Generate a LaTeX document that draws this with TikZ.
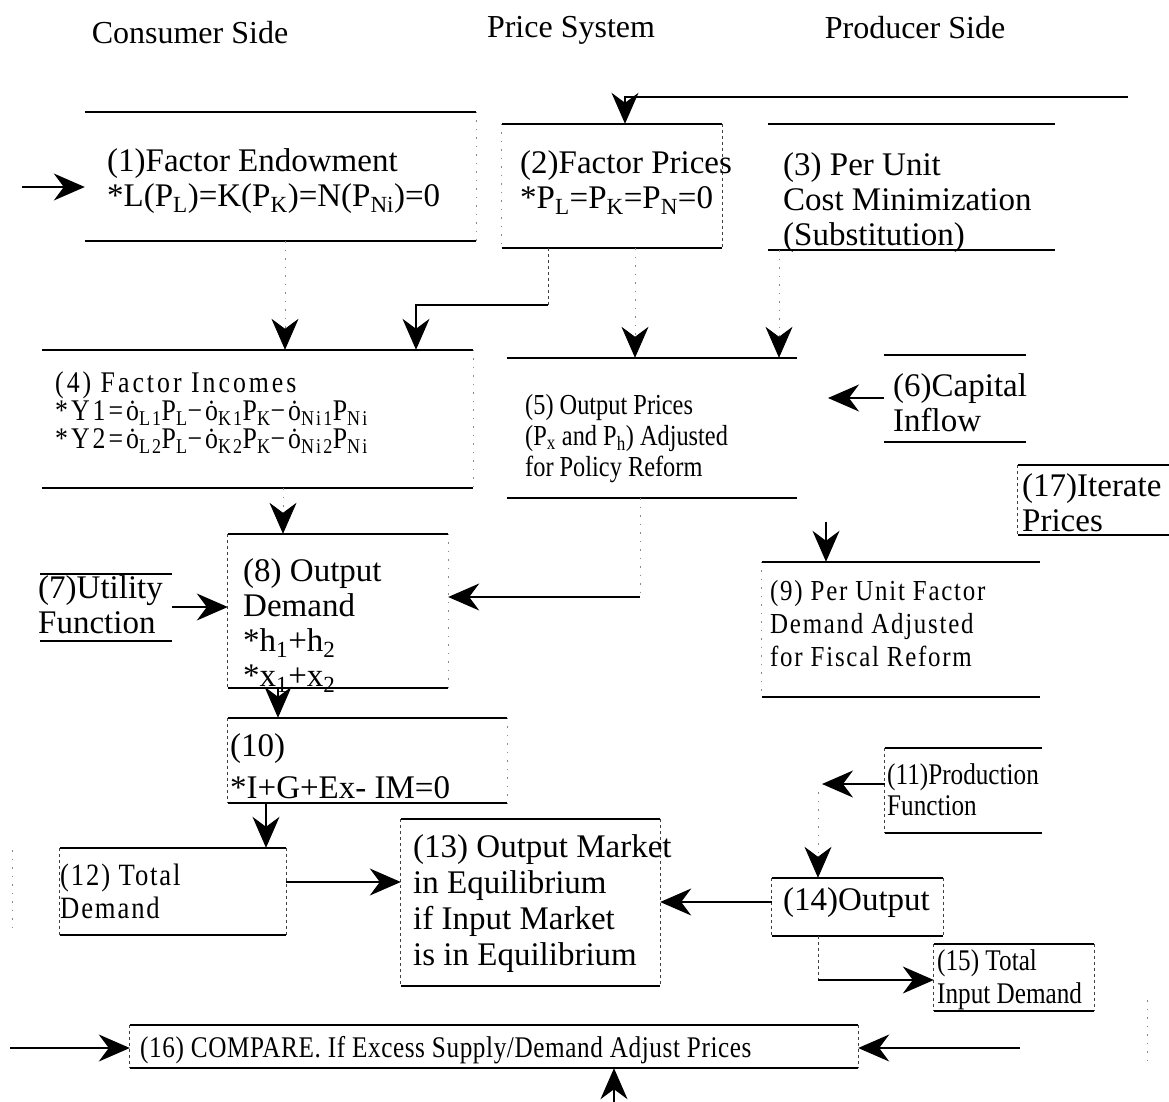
\documentclass[tikz,border=0pt]{standalone}
\usepackage{fontspec}
\setmainfont{Liberation Serif}
\newfontfamily\condf[FakeStretch=0.84]{Liberation Serif}
\newfontfamily\condl[FakeStretch=0.84,LetterSpace=2]{Liberation Serif}
\newfontfamily\spcf[FakeStretch=0.86,LetterSpace=6]{Liberation Serif}
\newfontfamily\spcw[FakeStretch=0.86,LetterSpace=10]{Liberation Serif}
\usetikzlibrary{arrows.meta,fit}
\begin{document}
\begin{tikzpicture}[x=1pt,y=-1pt,
  tb/.style={line width=1.5pt},
  sd/.style={line width=0.8pt, dash pattern=on 3pt off 3pt, black!75},
  fs/.style={line width=0.8pt, dash pattern=on 1.5pt off 7pt, black!45},
  bx/.style={rectangle, draw=none, inner sep=0pt},
  conn/.style={line width=1.3pt, -{Stealth[length=31pt,width=27pt,inset=10pt,black]}},
  dconn/.style={line width=0.8pt, dash pattern=on 1.5pt off 7pt, black!45, -{Stealth[length=31pt,width=27pt,inset=10pt,black]}},
  tx/.style={anchor=north west, inner sep=0pt, align=left, font=\fontsize{33}{35}\selectfont},
  txc/.style={anchor=north west, inner sep=0pt, align=left, font=\condf\fontsize{30}{31}\selectfont},
  txs/.style={anchor=north west, inner sep=0pt, align=left, font=\spcf\fontsize{27}{29}\selectfont},
  ttl/.style={inner sep=0pt, font=\fontsize{32}{34}\selectfont}
]
\useasboundingbox (0,0) rectangle (1169,1102);

% titles
\node[ttl] (ti1) at (190,33) {Consumer Side};
\node[ttl] (ti2) at (571,30) {Price System};
\node[ttl] (ti3) at (915,28) {Producer Side};

% boxes
\node[bx, fit={(85,112) (476,241)}] (b1) {};
\node[bx, fit={(502,124) (722,248)}] (b2) {};
\node[bx, fit={(768,124) (1055,250)}] (b3) {};
\node[bx, fit={(42,350) (473,488)}] (b4) {};
\node[bx, fit={(507,358) (797,498)}] (b5) {};
\node[bx, fit={(884,355) (1026,442)}] (b6) {};
\node[bx, fit={(1018,465) (1169,535)}] (b17) {};
\node[bx, fit={(40,574) (172,641)}] (b7) {};
\node[bx, fit={(228,534) (448,688)}] (b8) {};
\node[bx, fit={(762,562) (1040,697)}] (b9) {};
\node[bx, fit={(228,718) (507,803)}] (b10) {};
\node[bx, fit={(885,748) (1042,833)}] (b11) {};
\node[bx, fit={(60,848) (286,935)}] (b12) {};
\node[bx, fit={(401,819) (660,986)}] (b13) {};
\node[bx, fit={(772,878) (943,936)}] (b14) {};
\node[bx, fit={(934,944) (1094,1011)}] (b15) {};
\node[bx, fit={(130,1025) (858,1068)}] (b16) {};

% top and bottom rules
\foreach \b in {b1,b2,b3,b4,b5,b6,b17,b7,b8,b9,b10,b11,b12,b13,b14,b15,b16}{
  \draw[tb] (\b.north west) -- (\b.north east);
  \draw[tb] (\b.south west) -- (\b.south east);
}
% visible dashed sides
\foreach \b in {b12,b13,b14,b15,b16}{
  \draw[sd] (\b.north west) -- (\b.south west);
  \draw[sd] (\b.north east) -- (\b.south east);
}
\foreach \b in {b8,b10,b11,b17}{
  \draw[sd] (\b.north west) -- (\b.south west);
}
\draw[sd] (b2.north east) -- (b2.south east);
% faint sides
\foreach \b in {b1,b4,b8,b10}{
  \draw[fs] (\b.north east) -- (\b.south east);
}
\draw[fs] (b9.north west) -- (b9.south west);
\draw[fs] (b2.north west) -- (b2.south west);
% faint traces at the margins
\coordinate (mL1) at (12,850);
\coordinate (mL2) at (12,935);
\draw[fs] (mL1) -- (mL2);
\coordinate (mR1) at (1147,1000);
\coordinate (mR2) at (1147,1060);
\draw[fs] (mR1) -- (mR2);

% texts
\node[tx] (t1) at (107,148) {(1)Factor Endowment\\*L(P\textsubscript{L})=K(P\textsubscript{K})=N(P\textsubscript{Ni})=0};
\node[tx] (t2) at (520,150) {(2)Factor Prices\\*P\textsubscript{L}=P\textsubscript{K}=P\textsubscript{N}=0};
\node[tx] (t3) at (783,152) {(3) Per Unit\\Cost Minimization\\(Substitution)};
\node[txs, font=\spcw\fontsize{30}{28}\selectfont] (t4) at (55,371) {(4) Factor Incomes\\*Y1=ȯ\textsubscript{L1}P\textsubscript{L}−ȯ\textsubscript{K1}P\textsubscript{K}−ȯ\textsubscript{Ni1}P\textsubscript{Ni}\\*Y2=ȯ\textsubscript{L2}P\textsubscript{L}−ȯ\textsubscript{K2}P\textsubscript{K}−ȯ\textsubscript{Ni2}P\textsubscript{Ni}};
\node[txc, font=\condf\fontsize{29}{31}\selectfont] (t5) at (525,394) {(5) Output Prices\\(P\textsubscript{x} and P\textsubscript{h}) Adjusted\\for Policy Reform};
\node[tx] (t6) at (893,373) {(6)Capital\\Inflow};
\node[tx] (t17) at (1022,473) {(17)Iterate\\Prices};
\node[tx] (t7) at (38,575) {(7)Utility\\Function};
\node[tx] (t8) at (243,558) {(8) Output\\Demand\\*h\textsubscript{1}+h\textsubscript{2}\\*x\textsubscript{1}+x\textsubscript{2}};
\node[txs, font=\spcf\fontsize{29}{33}\selectfont] (t9) at (770,580) {(9) Per Unit Factor\\Demand Adjusted\\for Fiscal Reform};
\node[tx, font=\fontsize{33}{42}\selectfont] (t10) at (230,733) {(10)\\*I+G+Ex- IM=0};
\node[txc] (t11) at (887,763) {(11)Production\\Function};
\node[txs, font=\spcf\fontsize{31}{33}\selectfont] (t12) at (60,864) {(12) Total\\Demand};
\node[tx, font=\fontsize{33}{36}\selectfont] (t13) at (413,834) {(13) Output Market\\in Equilibrium\\if Input Market\\is in Equilibrium};
\node[tx] (t14) at (783,887) {(14)Output};
\node[txc, font=\condf\fontsize{30}{33}\selectfont] (t15) at (937,949) {(15) Total\\Input Demand};
\node[txc, font=\condl\fontsize{30}{31}\selectfont] (t16) at (140,1036) {(16) COMPARE. If Excess Supply/Demand Adjust Prices};

% connectors
\coordinate (fbR) at (1128,97);
\coordinate (fbL) at (625,97);
\draw[conn] (fbR) -- (fbL) -- (fbL |- b2.north);
\coordinate (inL) at (22,187);
\draw[conn] (inL) -- (inL -| b1.west);
\coordinate (c2) at (285,241);
\draw[dconn] (c2) -- (c2 |- b4.north);
\coordinate (c3a) at (548,248);
\coordinate (c3b) at (548,305);
\coordinate (c3c) at (416,305);
\draw[sd] (c3a) -- (c3b);
\draw[conn] (c3b) -- (c3c) -- (c3c |- b4.north);
\coordinate (c4) at (635,248);
\draw[dconn] (c4) -- (c4 |- b5.north);
\coordinate (c5) at (779,250);
\draw[dconn] (c5) -- (c5 |- b5.north);
\coordinate (c6) at (828,398);
\draw[conn] (c6 -| b6.west) -- (c6);
\coordinate (c7) at (283,488);
\draw[dconn] (c7) -- (c7 |- b8.north);
\coordinate (c8) at (172,607);
\draw[conn] (c8) -- (c8 -| b8.west);
\coordinate (c9a) at (640,498);
\coordinate (c9b) at (640,597);
\draw[fs] (c9a) -- (c9b);
\draw[conn] (c9b) -- (c9b -| b8.east);
\coordinate (c10) at (826,522);
\draw[conn] (c10) -- (c10 |- b9.north);
\coordinate (c11) at (278,688);
\draw[conn] (c11) -- (c11 |- b10.north);
\coordinate (c12) at (822,784);
\draw[conn] (c12 -| b11.west) -- (c12);
\coordinate (c13) at (818,792);
\draw[dconn] (c13) -- (c13 |- b14.north);
\coordinate (c14) at (266,803);
\draw[conn] (c14) -- (c14 |- b12.north);
\coordinate (c15) at (286,882);
\draw[conn] (c15) -- (c15 -| b13.west);
\coordinate (c16) at (772,902);
\draw[conn] (c16) -- (c16 -| b13.east);
\coordinate (c17a) at (818,936);
\coordinate (c17b) at (818,980);
\draw[sd] (c17a) -- (c17b);
\draw[conn] (c17b) -- (c17b -| b15.west);
\coordinate (c18) at (10,1048);
\draw[conn] (c18) -- (c18 -| b16.west);
\coordinate (c19) at (1020,1048);
\draw[conn] (c19) -- (c19 -| b16.east);
\coordinate (c20) at (614,1102);
\draw[conn] (c20) -- (c20 |- b16.south);
\end{tikzpicture}
\end{document}
